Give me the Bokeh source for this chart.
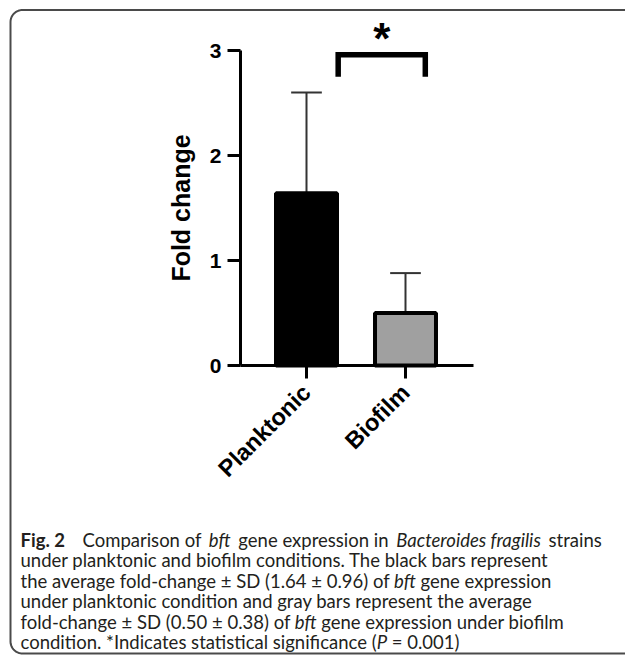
import os
import numpy as np
from bokeh.plotting import figure
from bokeh.models import Range1d, LinearAxis, FixedTicker, ColumnDataSource
from bokeh.core.properties import value
from bokeh.embed import file_html
from bokeh.resources import INLINE

# ---------------- data ----------------
categories = ["Planktonic", "Biofilm"]
fold_change = [1.64, 0.50]
fold_sd = [0.96, 0.38]
bar_colors = ["#000000", "#a0a0a0"]
y_ticks = [0, 1, 2, 3]
sig_label = "*"
bracket_x = [0.32, 1.20]
bracket_top = 2.96
bracket_drop = 0.21

caption_lines = [
    [("Fig. 2", "bold"), ("  Comparison of ", "normal"), ("bft", "italic"),
     (" gene expression in ", "normal"), ("Bacteroides fragilis", "italic"), (" strains", "normal")],
    [("under planktonic and biofilm conditions. The black bars represent", "normal")],
    [("the average fold-change ± SD (1.64 ± 0.96) of ", "normal"), ("bft", "italic"),
     (" gene expression", "normal")],
    [("under planktonic condition and gray bars represent the average", "normal")],
    [("fold-change ± SD (0.50 ± 0.38) of ", "normal"), ("bft", "italic"),
     (" gene expression under biofilm", "normal")],
    [("condition. *Indicates statistical significance (", "normal"), ("P", "italic"),
     (" = 0.001)", "normal")],
]

# ---------------- layout (pixels) ----------------
W, H = 625, 655
PX_X, X0_PX = 99.0, 306.0      # px per x unit, canvas x of x=0
PX_Y, Y0_PX = 105.0, 365.0     # px per y unit, canvas y (from top) of y=0


def px2x(px):
    return (px - X0_PX) / PX_X


def px2y(py):
    return (Y0_PX - py) / PX_Y


# ---------------- text measuring ----------------
CAP_FONT = "Lato"
font_files = {"normal": ["Lato-Regular.ttf"], "italic": ["Lato-Italic.ttf"], "bold": ["Lato-Bold.ttf"]}


def find_file(names):
    roots = ["/usr/share/fonts", "/usr/local/share/fonts",
             os.path.expanduser("~/.fonts"), os.path.expanduser("~/.local/share/fonts")]
    for root in roots:
        if not os.path.isdir(root):
            continue
        for dp, _, files in os.walk(root):
            for f in files:
                if f in names:
                    return os.path.join(dp, f)
    return None


pil_fonts = {}
try:
    from PIL import ImageFont
    for k, names in font_files.items():
        path = find_file(names)
        if path:
            pil_fonts[k] = ImageFont.truetype(path, 100)
except Exception:
    pil_fonts = {}


def tw(s, style, size):
    if s == "":
        return 0.0
    f = pil_fonts.get(style) or pil_fonts.get("normal")
    if f is not None:
        return f.getlength(s) * size / 100.0
    return len(s) * size * 0.5


# caption size fitted to the reference line widths (sum over all lines)
ref_line_w = [587, 523, 533, 515, 542, 450]
meas = sum(sum(tw(s, st, 100) for s, st in segs) for segs in caption_lines)
cap_size = max(14.0, min(18.5, 100.0 * sum(ref_line_w) / meas * 1.01)) if meas > 0 else 16.5

# ---------------- figure ----------------
p = figure(width=W, height=H, x_range=Range1d(px2x(0), px2x(W)), y_range=Range1d(px2y(H), px2y(0)),
           x_axis_type=None, y_axis_type=None, toolbar_location=None, output_backend="svg",
           min_border=0)
p.outline_line_color = None
p.grid.visible = False
p.background_fill_color = "white"
p.border_fill_color = "white"

x_left = px2x(240)
x_right = px2x(473)

yax = LinearAxis(ticker=FixedTicker(ticks=y_ticks), fixed_location=x_left, bounds=(0, 3),
                 axis_label="Fold change")
xax = LinearAxis(ticker=FixedTicker(ticks=list(range(len(categories)))), fixed_location=0,
                 bounds=(x_left, x_right),
                 major_label_overrides={i: c for i, c in enumerate(categories)},
                 major_label_orientation=np.pi / 4)
for ax in (yax, xax):
    ax.axis_line_width = 3
    ax.axis_line_color = "black"
    ax.major_tick_line_width = 3
    ax.major_tick_line_color = "black"
    ax.major_tick_out = 13
    ax.major_tick_in = 0
    ax.minor_tick_line_color = None
    ax.major_label_text_font = "Liberation Sans"
    ax.major_label_text_font_style = "bold"
    ax.major_label_text_color = "black"
yax.major_label_text_font_size = "21px"
xax.major_label_text_font_size = "23.5px"
yax.major_label_standoff = 6
xax.major_label_standoff = 10
yax.axis_label_text_font = "Liberation Sans"
yax.axis_label_text_font_style = "bold"
yax.axis_label_text_font_size = "25px"
yax.axis_label_text_color = "black"
yax.axis_label_standoff = 12
p.add_layout(yax, "left")
p.add_layout(xax, "below")

xs = np.arange(len(categories), dtype=float)
tops = np.array(fold_change) + np.array(fold_sd)

# error bars (upper only)
p.segment(x0=xs, y0=fold_change, x1=xs, y1=tops, line_color="#333333", line_width=2)
p.segment(x0=xs - 0.155, y0=tops, x1=xs + 0.155, y1=tops, line_color="#333333", line_width=2)

# bars
src = ColumnDataSource(dict(x=xs, top=fold_change, color=bar_colors))
p.vbar(x="x", top="top", bottom=0, width=0.616, source=src, fill_color="color",
       line_color="black", line_width=4)

# significance bracket
p.line(x=[bracket_x[0], bracket_x[0], bracket_x[1], bracket_x[1]],
       y=[bracket_top - bracket_drop, bracket_top, bracket_top, bracket_top - bracket_drop],
       line_color="black", line_width=5.5, line_join="miter")
p.text(x=[(bracket_x[0] + bracket_x[1]) / 2], y=[bracket_top + 0.15], text=[sig_label],
       text_font=value("Liberation Sans"), text_font_style="bold", text_font_size="44px",
       text_align="center", text_baseline="alphabetic", text_color="black")

# caption (segments placed one after another; spaces become offsets)
cap_x0 = 20.0
cap_base0 = 539.0
cap_lh = 20.5
line_targets = [587, None, None, None, None, None]   # stretch first line like the reference
groups = {"normal": dict(x=[], y=[], text=[]), "italic": dict(x=[], y=[], text=[]),
          "bold": dict(x=[], y=[], text=[])}
for i, segs in enumerate(caption_lines):
    natural = sum(tw(s, st, cap_size) for s, st in segs)
    extras = [0.0] * len(segs)
    if line_targets[i] is not None and len(segs) > 1:
        total = float(np.clip(line_targets[i] - natural, 0, 20))
        # a larger gap after the bold figure label, the rest spread evenly
        extras[0] = total * 0.4
        for k in range(1, len(segs) - 1):
            extras[k] = total * 0.6 / (len(segs) - 2)
    cx = cap_x0
    by = cap_base0 + i * cap_lh
    for k, (s, style) in enumerate(segs):
        lead = s[:len(s) - len(s.lstrip(" "))]
        core = s.strip(" ")
        groups[style]["x"].append(px2x(cx + tw(lead, "normal", cap_size)))
        groups[style]["y"].append(px2y(by))
        groups[style]["text"].append(core)
        cx += tw(s, style, cap_size) + extras[k]
for style, d in groups.items():
    if not d["text"]:
        continue
    p.text(x="x", y="y", text="text", source=ColumnDataSource(d),
           text_font=value(CAP_FONT), text_font_style=style,
           text_font_size=f"{cap_size:.2f}px", text_color="#231f20",
           text_align="left", text_baseline="alphabetic")

# rounded frame around the figure
left, top, right, bottom, r = 10.0, 9.5, 720.0, 653.0, 12.0
t1 = np.linspace(np.pi / 2, np.pi, 12)
t2 = np.linspace(np.pi, 3 * np.pi / 2, 12)
bx = [right] + list(left + r + r * np.cos(t1)) + list(left + r + r * np.cos(t2)) + [right]
by_ = [top] + list(top + r - r * np.sin(t1)) + list(bottom - r - r * np.sin(t2)) + [bottom]
p.line(x=[px2x(v) for v in bx], y=[px2y(v) for v in by_], line_color="#4a4a4a", line_width=2)

open("out.html", "w").write(file_html(p, INLINE))
